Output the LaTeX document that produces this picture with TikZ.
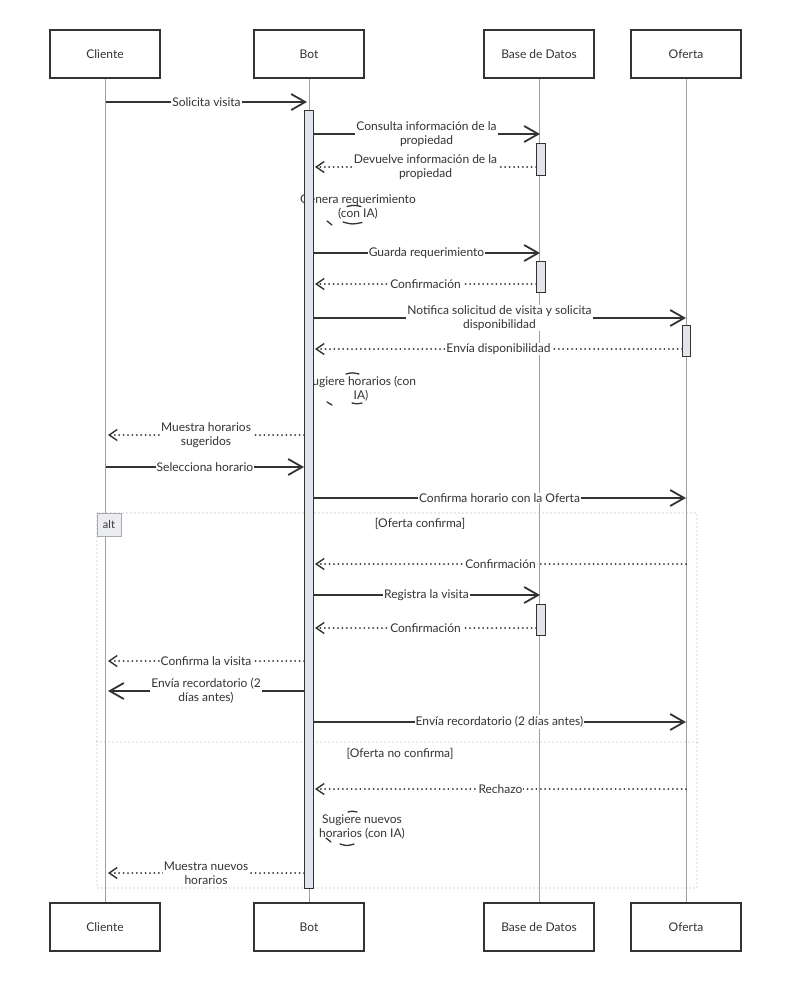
\documentclass[tikz,border=0pt]{standalone}
\usepackage{fontspec}
\setmainfont{Lato}
\usetikzlibrary{arrows.meta}
\definecolor{ink}{HTML}{333333}
\definecolor{life}{HTML}{A0A0A0}
\definecolor{actfill}{HTML}{E2E5EB}
\definecolor{altfill}{HTML}{ECEDF1}
\definecolor{framec}{HTML}{A8A8B0}
\tikzset{
  actor/.style={draw=ink, line width=1.3pt, fill=white, minimum width=110pt, minimum height=48pt, font=\fontsize{12}{14}\selectfont, text=ink},
  lifeline/.style={draw=life, line width=0.9pt},
  actbar/.style={draw=ink, line width=1pt, fill=actfill},
  solidmsg/.style={draw=ink, line width=1.8pt, -{Straight Barb[length=14pt,width=16pt,line width=1.8pt]}},
  dotmsg/.style={draw=ink, line width=2pt, line cap=round, dash pattern=on 0pt off 4.4pt, -{Straight Barb[length=8pt,width=11pt,line width=1.4pt]}},
  lbl/.style={fill=white, inner sep=1pt, align=center, text=ink, font=\fontsize{12}{14}\selectfont},
  selftxt/.style={inner sep=0pt, align=center, text=ink, font=\fontsize{12}{14}\selectfont},
  framebox/.style={draw=framec, line width=1.3pt, line cap=round, dash pattern=on 0pt off 4pt},
  scrib/.style={draw=ink, line width=1.3pt, line cap=round},
}
\begin{document}
\begin{tikzpicture}[x=1pt,y=-1pt]
\useasboundingbox[fill=white] (0,0) rectangle (809,983);

% actors
\node[actor] (cT) at (105,54) {Cliente};
\node[actor] (bT) at (309,54) {Bot};
\node[actor] (dT) at (539,54) {Base de Datos};
\node[actor] (oT) at (686,54) {Oferta};
\node[actor] (cB) at (105,927) {Cliente};
\node[actor] (bB) at (309,927) {Bot};
\node[actor] (dB) at (539,927) {Base de Datos};
\node[actor] (oB) at (686,927) {Oferta};

% lifelines
\draw[lifeline] (cT.south) -- (cB.north);
\draw[lifeline] (bT.south) -- (bB.north);
\draw[lifeline] (dT.south) -- (dB.north);
\draw[lifeline] (oT.south) -- (oB.north);

% alt frame
\draw[framebox] (97,513) rectangle (697,888);
\draw[framebox] (97,742) -- (697,742);
\node[draw=framec, line width=1pt, fill=altfill, minimum width=24pt, minimum height=23pt, inner sep=0pt, text=ink, font=\fontsize{11}{12}\selectfont] (alt) at (109,524.5) {alt};
\node[selftxt] (g1) at (420,524) {[Oferta confirma]};
\node[selftxt] (g2) at (400,754) {[Oferta no confirma]};

% self-message texts (under the activation bar)
\node[selftxt] (s1) at (358,207) {Genera requerimiento\\(con IA)};
\node[selftxt] (s2) at (361,389) {Sugiere horarios (con\\IA)};
\node[selftxt] (s3) at (362,827) {Sugiere nuevos\\horarios (con IA)};
\draw[scrib] (347,206.5) .. controls (354,205) .. (361,206.5);
\draw[scrib] (343,222) .. controls (352,224.5) .. (362,222.5);
\draw[scrib] (327,221) -- (332,225);
\draw[scrib] (346,374) .. controls (352,372.5) .. (359,374);
\draw[scrib] (352,403) .. controls (357,404) .. (362,403);
\draw[scrib] (327,402) -- (332,405);
\draw[scrib] (348,812) .. controls (352,811) .. (357,812);
\draw[scrib] (340,844) .. controls (347,846) .. (354,844);
\draw[scrib] (326,838) -- (331,842);

% activation bars
\draw[actbar] (304,110) rectangle (313,888);
\draw[actbar] (536,143) rectangle (545,175);
\draw[actbar] (536,261) rectangle (545,292);
\draw[actbar] (682,325) rectangle (690,356);
\draw[actbar] (536,604) rectangle (545,635);

% message end points
\coordinate (m1a) at (106,102);  \coordinate (m1b) at (307,102);
\coordinate (m2a) at (313,134);  \coordinate (m2b) at (540,134);
\coordinate (m3a) at (536,167);  \coordinate (m3b) at (315,167);
\coordinate (m5a) at (313,253);  \coordinate (m5b) at (540,253);
\coordinate (m6a) at (536,284);  \coordinate (m6b) at (315,284);
\coordinate (m7a) at (313,318);  \coordinate (m7b) at (686,318);
\coordinate (m8a) at (682,349);  \coordinate (m8b) at (315,349);
\coordinate (m10a) at (304,435); \coordinate (m10b) at (108,435);
\coordinate (m11a) at (106,467); \coordinate (m11b) at (304,467);
\coordinate (m12a) at (313,498); \coordinate (m12b) at (686,498);
\coordinate (m13a) at (686,564); \coordinate (m13b) at (315,564);
\coordinate (m14a) at (313,595); \coordinate (m14b) at (540,595);
\coordinate (m15a) at (536,628); \coordinate (m15b) at (315,628);
\coordinate (m16a) at (304,661); \coordinate (m16b) at (108,661);
\coordinate (m17a) at (304,691); \coordinate (m17b) at (108,691);
\coordinate (m18a) at (313,722); \coordinate (m18b) at (686,722);
\coordinate (m19a) at (686,789); \coordinate (m19b) at (315,789);
\coordinate (m21a) at (304,873); \coordinate (m21b) at (108,873);

% messages
\draw[solidmsg] (m1a) -- node[lbl] (l1) {Solicita visita} (m1b);
\draw[solidmsg] (m2a) -- node[lbl] (l2) {Consulta información de la\\propiedad} (m2b);
\draw[dotmsg] (m3a) -- node[lbl] (l3) {Devuelve información de la\\propiedad} (m3b);
\draw[solidmsg] (m5a) -- node[lbl] (l5) {Guarda requerimiento} (m5b);
\draw[dotmsg] (m6a) -- node[lbl] (l6) {Confirmación} (m6b);
\draw[solidmsg] (m7a) -- node[lbl] (l7) {Notifica solicitud de visita y solicita\\disponibilidad} (m7b);
\draw[dotmsg] (m8a) -- node[lbl] (l8) {Envía disponibilidad} (m8b);
\draw[dotmsg] (m10a) -- node[lbl] (l10) {Muestra horarios\\sugeridos} (m10b);
\draw[solidmsg] (m11a) -- node[lbl] (l11) {Selecciona horario} (m11b);
\draw[solidmsg] (m12a) -- node[lbl] (l12) {Confirma horario con la Oferta} (m12b);
\draw[dotmsg] (m13a) -- node[lbl] (l13) {Confirmación} (m13b);
\draw[solidmsg] (m14a) -- node[lbl] (l14) {Registra la visita} (m14b);
\draw[dotmsg] (m15a) -- node[lbl] (l15) {Confirmación} (m15b);
\draw[dotmsg] (m16a) -- node[lbl] (l16) {Confirma la visita} (m16b);
\draw[solidmsg] (m17a) -- node[lbl] (l17) {Envía recordatorio (2\\días antes)} (m17b);
\draw[solidmsg] (m18a) -- node[lbl] (l18) {Envía recordatorio (2 días antes)} (m18b);
\draw[dotmsg] (m19a) -- node[lbl] (l19) {Rechazo} (m19b);
\draw[dotmsg] (m21a) -- node[lbl] (l21) {Muestra nuevos\\horarios} (m21b);
\end{tikzpicture}
\end{document}
